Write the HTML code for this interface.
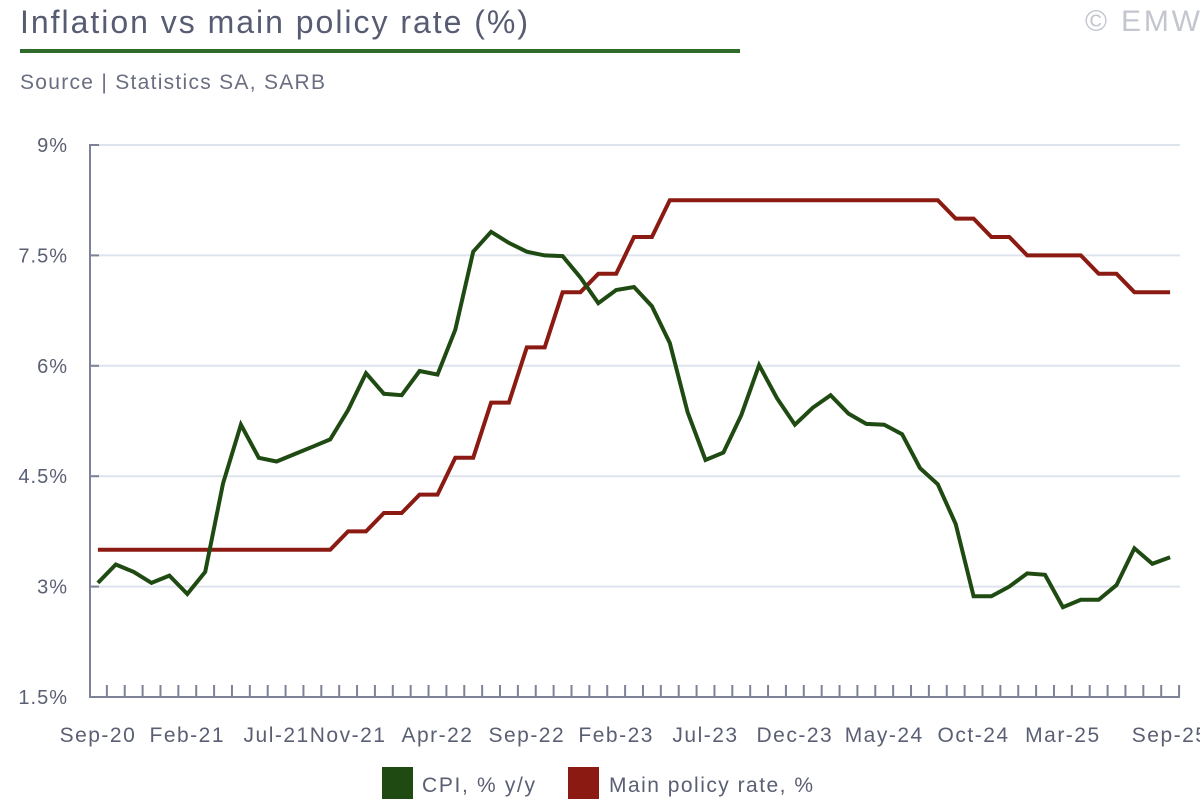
<!DOCTYPE html>
<html><head><meta charset="utf-8"><style>
body{margin:0;background:#fff;width:1200px;height:800px;overflow:hidden;font-family:"Liberation Sans",sans-serif}
</style></head><body>
<svg id="s" width="1200" height="800" xmlns="http://www.w3.org/2000/svg" font-family="Liberation Sans, sans-serif">
<text x="20" y="33" font-size="32" fill="#575c72" textLength="508" lengthAdjust="spacing">Inflation vs main policy rate (%)</text>
<text x="1085" y="31" font-size="30" fill="#c4c6cf" textLength="115" lengthAdjust="spacing">© EMW</text>
<rect x="20" y="49" width="720" height="4" fill="#2f6b2a"/>
<text x="20" y="89" font-size="21" fill="#6a6e80" textLength="305" lengthAdjust="spacing">Source | Statistics SA, SARB</text>
<g id="g"></g>
<rect x="382" y="767" width="31" height="32" fill="#1f4a12"/>
<text x="422" y="792" font-size="21" fill="#5a5f73" textLength="113" lengthAdjust="spacing">CPI, % y/y</text>
<rect x="568" y="767" width="31" height="32" fill="#8b1a12"/>
<text x="609" y="792" font-size="21" fill="#5a5f73" textLength="204" lengthAdjust="spacing">Main policy rate, %</text>
</svg>
<script>
var cpi=[3.05,3.3,3.2,3.05,3.15,2.9,3.2,4.4,5.2,4.75,4.7,4.8,4.9,5.0,5.4,5.9,5.62,5.6,5.93,5.88,6.49,7.55,7.82,7.67,7.55,7.5,7.49,7.2,6.85,7.03,7.07,6.81,6.31,5.37,4.72,4.82,5.33,6.01,5.56,5.2,5.43,5.6,5.35,5.21,5.2,5.07,4.61,4.39,3.85,2.87,2.87,3.0,3.18,3.16,2.72,2.82,2.82,3.02,3.52,3.31,3.4];
var r=[];function f(a,b,v){for(var i=a;i<=b;i++)r[i]=v;}
f(0,13,3.5);f(14,15,3.75);f(16,17,4);f(18,19,4.25);f(20,21,4.75);f(22,23,5.5);f(24,25,6.25);f(26,27,7);f(28,29,7.25);f(30,31,7.75);f(32,47,8.25);f(48,49,8);f(50,51,7.75);f(52,55,7.5);f(56,57,7.25);f(58,60,7);
var W=17.87,X0=89;function X(i){return X0+(i+0.5)*W}function Y(v){return 697-(v-1.5)*73.6}
var h='';
[3,4.5,6,7.5,9].forEach(function(v){h+='<line x1="89" x2="1180" y1="'+Y(v)+'" y2="'+Y(v)+'" stroke="#dde4ee" stroke-width="2"/>';h+='<line x1="89" x2="99" y1="'+Y(v)+'" y2="'+Y(v)+'" stroke="#7d8296" stroke-width="2"/>';});
[[1.5,'1.5%'],[3,'3%'],[4.5,'4.5%'],[6,'6%'],[7.5,'7.5%'],[9,'9%']].forEach(function(t){h+='<text x="68" y="'+(Y(t[0])+7)+'" font-size="20" text-anchor="end" fill="#5a5f73" letter-spacing="1">'+t[1]+'</text>';});
h+='<line x1="90" x2="90" y1="145" y2="698" stroke="#7d8296" stroke-width="2"/>';
h+='<line x1="89" x2="1180" y1="697" y2="697" stroke="#7d8296" stroke-width="2"/>';
for(var i=1;i<=61;i++){var x=X0+i*W;h+='<line x1="'+x+'" x2="'+x+'" y1="685" y2="697" stroke="#7d8296" stroke-width="2"/>';}
var labs={0:'Sep-20',5:'Feb-21',10:'Jul-21',14:'Nov-21',19:'Apr-22',24:'Sep-22',29:'Feb-23',34:'Jul-23',39:'Dec-23',44:'May-24',49:'Oct-24',54:'Mar-25',60:'Sep-25'};
for(var k in labs){h+='<text x="'+X(+k)+'" y="742" font-size="21" text-anchor="middle" fill="#5a5f73" letter-spacing="1.5">'+labs[k]+'</text>';}
function p(d,c){var s='';d.forEach(function(v,i){s+=(i?'L':'M')+X(i).toFixed(1)+','+Y(v).toFixed(1)});return '<path d="'+s+'" fill="none" stroke="'+c+'" stroke-width="4" stroke-linejoin="miter"/>';}
h+=p(r,'#8b1a12');h+=p(cpi,'#1f4a12');
document.getElementById('g').innerHTML=h;
</script>
</body></html>
